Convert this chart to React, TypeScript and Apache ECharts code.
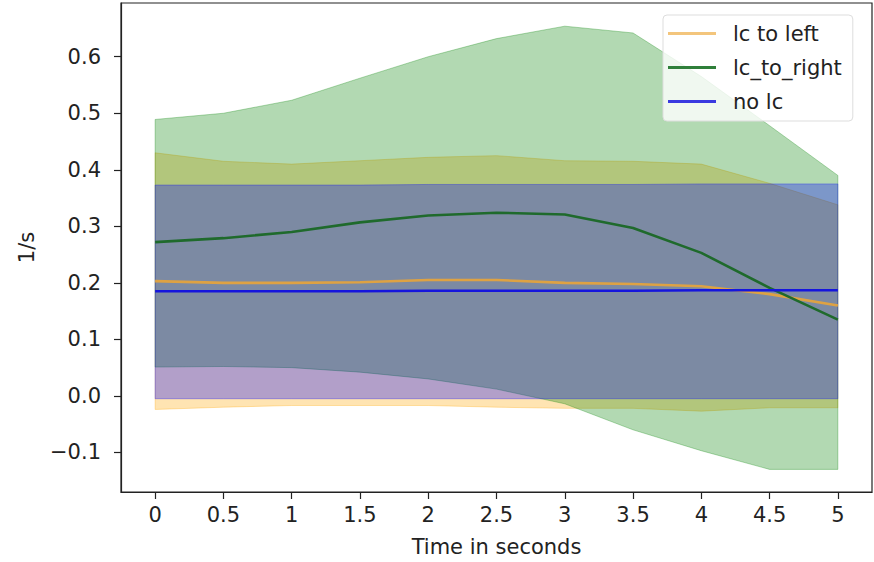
import React, { useEffect, useRef } from "react";
import * as echarts from "echarts";

const times = [0, 0.5, 1, 1.5, 2, 2.5, 3, 3.5, 4, 4.5, 5];
const xTicks = [0, 0.5, 1, 1.5, 2, 2.5, 3, 3.5, 4, 4.5, 5];
const yTicks = [-0.1, 0, 0.1, 0.2, 0.3, 0.4, 0.5, 0.6];

const leftMean = [0.203, 0.2, 0.2, 0.201, 0.205, 0.205, 0.2, 0.198, 0.194, 0.18, 0.16];
const leftUpper = [0.43, 0.415, 0.41, 0.416, 0.422, 0.425, 0.416, 0.415, 0.41, 0.376, 0.338];
const leftLower = [-0.024, -0.02, -0.017, -0.017, -0.017, -0.02, -0.022, -0.022, -0.027, -0.021, -0.021];

const rightMean = [0.272, 0.279, 0.29, 0.307, 0.319, 0.324, 0.321, 0.297, 0.253, 0.191, 0.135];
const rightUpper = [0.489, 0.5, 0.523, 0.562, 0.6, 0.632, 0.654, 0.642, 0.565, 0.478, 0.39];
const rightLower = [0.051, 0.052, 0.05, 0.042, 0.03, 0.012, -0.014, -0.06, -0.097, -0.13, -0.13];

const noMean = [0.185, 0.185, 0.185, 0.185, 0.186, 0.186, 0.186, 0.186, 0.187, 0.187, 0.187];
const noUpper = [0.373, 0.373, 0.373, 0.373, 0.374, 0.374, 0.374, 0.374, 0.375, 0.375, 0.375];
const noLower = [-0.005, -0.005, -0.005, -0.005, -0.005, -0.005, -0.005, -0.005, -0.005, -0.005, -0.005];

const FONT = "DejaVu Sans";

function band(id: string, lower: number[], upper: number[], fill: string, z: number) {
  return {
    name: id + "_band",
    type: "custom",
    silent: true,
    clip: true,
    z,
    data: times.map((t, i) => [t, lower[i], upper[i]]),
    encode: { x: 0, y: [1, 2] },
    renderItem: (params: any, api: any) => {
      if (params.dataIndex !== 0) return null;
      const top = times.map((t, i) => api.coord([t, upper[i]]));
      const bot = times.map((t, i) => api.coord([t, lower[i]])).reverse();
      return {
        type: "polygon",
        shape: { points: top.concat(bot) },
        style: { fill, stroke: fill, lineWidth: 1 },
      };
    },
  };
}

function meanLine(name: string, vals: number[], color: string, z: number) {
  return {
    name,
    type: "line",
    symbol: "none",
    data: times.map((t, i) => [t, vals[i]]),
    lineStyle: { width: 2.6, color },
    itemStyle: { color },
    z,
  };
}

export default function App() {
  const ref = useRef<HTMLDivElement>(null);
  useEffect(() => {
    if (!ref.current) return;
    const chart = echarts.init(ref.current, null, { renderer: "svg" });
    chart.setOption({
      animation: false,
      backgroundColor: "#ffffff",
      grid: {
        left: 121,
        right: 2,
        top: 3,
        bottom: 69,
        show: true,
        borderColor: "#222",
        borderWidth: 1.2,
        backgroundColor: "transparent",
      },
      legend: {
        orient: "vertical",
        left: 663,
        top: 15,
        padding: [8, 11, 9, 5],
        itemGap: 13,
        itemWidth: 48,
        itemHeight: 3,
        selectedMode: false,
        backgroundColor: "rgba(255,255,255,0.8)",
        borderColor: "#dddddd",
        borderWidth: 1,
        borderRadius: 4,
        z: 10,
        textStyle: {
          fontFamily: FONT,
          fontSize: 21,
          lineHeight: 21,
          color: "#222",
          padding: [0, 0, 0, 12],
        },
        data: [
          { name: "lc to left", icon: "rect", itemStyle: { color: "#f3c57c" } },
          { name: "lc_to_right", icon: "rect", itemStyle: { color: "#2f7f3a" } },
          { name: "no lc", icon: "rect", itemStyle: { color: "#3a3ae0" } },
        ],
      },
      xAxis: {
        type: "value",
        min: -0.25,
        max: 5.25,
        name: "Time in seconds",
        nameLocation: "middle",
        nameGap: 44,
        nameTextStyle: { fontFamily: FONT, fontSize: 21, color: "#222" },
        axisLine: { show: true, onZero: false, lineStyle: { color: "#222", width: 1.2 } },
        axisTick: { show: true, length: 7, customValues: xTicks, lineStyle: { color: "#222", width: 1.2 } },
        axisLabel: {
          customValues: xTicks,
          margin: 12,
          fontFamily: FONT,
          fontSize: 21,
          color: "#222",
          formatter: (v: number) => String(v),
        },
        splitLine: { show: false },
      },
      yAxis: {
        type: "value",
        min: -0.17,
        max: 0.695,
        name: "1/s",
        nameLocation: "middle",
        nameGap: 84,
        nameRotate: 90,
        nameTextStyle: { fontFamily: FONT, fontSize: 21, color: "#222" },
        axisLine: { show: true, onZero: false, lineStyle: { color: "#222", width: 1.2 } },
        axisTick: { show: true, length: 7, customValues: yTicks, lineStyle: { color: "#222", width: 1.2 } },
        axisLabel: {
          customValues: yTicks,
          margin: 20,
          fontFamily: FONT,
          fontSize: 21,
          color: "#222",
          formatter: (v: number) => {
            const s = Math.abs(v).toFixed(1);
            return v < -1e-9 ? "\u2212" + s : s;
          },
        },
        splitLine: { show: false },
      },
      series: [
        band("left", leftLower, leftUpper, "rgba(255,165,0,0.3)", 1),
        band("right", rightLower, rightUpper, "rgba(0,128,0,0.3)", 1),
        band("no", noLower, noUpper, "rgba(0,0,255,0.3)", 1),
        meanLine("lc to left", leftMean, "#dea243", 3),
        meanLine("lc_to_right", rightMean, "#1f6a2c", 3),
        meanLine("no lc", noMean, "#1515dd", 3),
      ],
    });
    return () => chart.dispose();
  }, []);
  return (
    <div
      ref={ref}
      style={{ position: "fixed", left: 0, top: 0, width: 874, height: 562 }}
    />
  );
}
